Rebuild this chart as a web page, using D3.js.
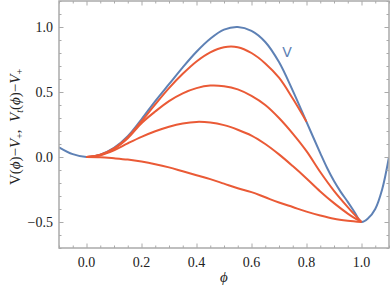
<!DOCTYPE html>
<html>
<head>
<meta charset="utf-8">
<script src="https://cdn.jsdelivr.net/npm/d3@7"></script>
<style>
  body { margin: 0; background: #fff; }
  svg { display: block; }
</style>
</head>
<body>
<div id="chart"></div>
<script>
// potential V(phi) - V+
var phiV = [-0.1, -0.05, 0, 0.05, 0.1, 0.15, 0.2, 0.25, 0.3, 0.35, 0.4, 0.45, 0.5, 0.55,
            0.6, 0.65, 0.7, 0.75, 0.8, 0.85, 0.875, 0.9, 0.925, 0.95, 0.975, 1.0,
            1.025, 1.05, 1.075, 1.1];
var vValues = [0.075, 0.022, 0, 0.018, 0.07, 0.16, 0.29, 0.43, 0.56, 0.69, 0.81, 0.91, 0.98, 1.0,
               0.97, 0.885, 0.73, 0.51, 0.27, 0.03, -0.085, -0.185, -0.27, -0.345, -0.425, -0.5,
               -0.47, -0.40, -0.25, 0.0];

// tunneling potentials Vt(phi) - V+
var phiT = [0, 0.05, 0.1, 0.15, 0.2, 0.25, 0.3, 0.35, 0.4, 0.45, 0.5, 0.55,
            0.6, 0.65, 0.7, 0.75, 0.8, 0.85, 0.9, 0.95, 1.0];
var vt1 = [0, 0.017, 0.066, 0.152, 0.275, 0.405, 0.53, 0.64, 0.735, 0.805, 0.845, 0.845,
           0.80, 0.72, 0.61, 0.45, 0.272];
var vt2 = [0, 0.016, 0.063, 0.145, 0.26, 0.35, 0.43, 0.49, 0.53, 0.55, 0.545, 0.52,
           0.47, 0.40, 0.30, 0.18, 0.045, -0.115, -0.26, -0.385, -0.5];
var vt3 = [0, 0.014, 0.052, 0.105, 0.155, 0.198, 0.233, 0.258, 0.27, 0.265, 0.245, 0.21,
           0.165, 0.10, 0.02, -0.07, -0.165, -0.265, -0.355, -0.435, -0.5];
var vt4 = [0, -0.002, -0.01, -0.02, -0.035, -0.055, -0.08, -0.11, -0.14, -0.17, -0.205, -0.24,
           -0.27, -0.31, -0.35, -0.385, -0.42, -0.45, -0.475, -0.49, -0.5];

var xMajor = [0, 0.2, 0.4, 0.6, 0.8, 1.0];
var yMajor = [-0.5, 0, 0.5, 1.0];

var width = 390, height = 295;
var frame = { left: 59, right: 389, top: 1, bottom: 248 };
var blue = '#5E81B5', red = '#EA5A36', frameColor = '#aaaaaa';
var serif = '"Liberation Serif", "Times New Roman", Times, "DejaVu Serif", serif';

var x = d3.scaleLinear().domain([-0.1, 1.1]).range([frame.left, frame.right]);
var y = d3.scaleLinear().domain([-0.7, 1.2]).range([frame.bottom, frame.top]);

var svg = d3.select('#chart').append('svg')
    .attr('width', width)
    .attr('height', height);

svg.append('clipPath').attr('id', 'clip')
  .append('rect')
    .attr('x', frame.left).attr('y', frame.top)
    .attr('width', frame.right - frame.left)
    .attr('height', frame.bottom - frame.top);

var plot = svg.append('g').attr('clip-path', 'url(#clip)');

var line = d3.line()
    .x(function(d) { return x(d[0]); })
    .y(function(d) { return y(d[1]); })
    .curve(d3.curveCatmullRom.alpha(0.5));

plot.append('path')
    .datum(d3.zip(phiV, vValues))
    .attr('d', line)
    .attr('fill', 'none')
    .attr('stroke', blue)
    .attr('stroke-width', 2);

[vt4, vt3, vt2, vt1].forEach(function(vals) {
  plot.append('path')
      .datum(d3.zip(phiT.slice(0, vals.length), vals))
      .attr('d', line)
      .attr('fill', 'none')
      .attr('stroke', red)
      .attr('stroke-width', 2);
});

// frame with ticks on all four sides
var xMinor = d3.range(-0.1, 1.1001, 0.05).filter(function(v) {
  return !xMajor.some(function(m) { return Math.abs(m - v) < 1e-6; });
});
var yMinor = d3.range(-0.7, 1.2001, 0.1).filter(function(v) {
  return !yMajor.some(function(m) { return Math.abs(m - v) < 1e-6; });
});

var axisG = svg.append('g').attr('class', 'frame');

function addTicks(axisFn, scale, major, minor, transform) {
  var g = axisG.append('g').attr('transform', transform);
  g.call(axisFn(scale).tickValues(minor).tickSize(-2.5).tickFormat(''));
  var g2 = axisG.append('g').attr('transform', transform);
  g2.call(axisFn(scale).tickValues(major).tickSize(-4.5).tickFormat(''));
  [g, g2].forEach(function(s) {
    s.select('.domain').remove();
    s.selectAll('line').attr('stroke', frameColor).attr('stroke-width', 1);
  });
}
addTicks(d3.axisBottom, x, xMajor, xMinor, 'translate(0,' + frame.bottom + ')');
addTicks(d3.axisTop, x, xMajor, xMinor, 'translate(0,' + frame.top + ')');
addTicks(d3.axisLeft, y, yMajor, yMinor, 'translate(' + frame.left + ',0)');
addTicks(d3.axisRight, y, yMajor, yMinor, 'translate(' + frame.right + ',0)');

axisG.append('rect')
    .attr('x', frame.left).attr('y', frame.top)
    .attr('width', frame.right - frame.left)
    .attr('height', frame.bottom - frame.top)
    .attr('fill', 'none')
    .attr('stroke', frameColor)
    .attr('stroke-width', 1.5);

// tick labels
svg.selectAll('.xlab').data(xMajor).enter().append('text')
    .attr('font-family', serif)
    .attr('font-size', 14)
    .attr('fill', '#222')
    .attr('x', function(d) { return x(d); })
    .attr('y', 267)
    .attr('text-anchor', 'middle')
    .text(function(d) { return d.toFixed(1); });

svg.selectAll('.ylab').data(yMajor).enter().append('text')
    .attr('font-family', serif)
    .attr('font-size', 14)
    .attr('fill', '#222')
    .attr('x', 53)
    .attr('y', function(d) { return y(d) + 5; })
    .attr('text-anchor', 'end')
    .text(function(d) { return (d < 0 ? '\u2212' : '') + Math.abs(d).toFixed(1); });

// axis titles
svg.append('text')
    .attr('font-family', serif)
    .attr('font-size', 15)
    .attr('fill', '#222')
    .attr('x', (frame.left + frame.right) / 2)
    .attr('y', 282)
    .attr('text-anchor', 'middle')
    .style('font-style', 'italic')
    .text('\u03D5');

var yt = svg.append('text')
    .attr('font-family', serif)
    .attr('font-size', 15)
    .attr('fill', '#222')
    .attr('transform', 'translate(20,127) rotate(-90)')
    .attr('text-anchor', 'middle');
yt.append('tspan').text('V(');
yt.append('tspan').style('font-style', 'italic').text('\u03D5');
yt.append('tspan').text(')\u2212');
yt.append('tspan').style('font-style', 'italic').text('V');
yt.append('tspan').attr('dy', 3).style('font-size', '10px').text('+');
yt.append('tspan').attr('dy', -3).text(',\u2002');
yt.append('tspan').style('font-style', 'italic').text('V');
yt.append('tspan').attr('dy', 3).style('font-size', '10px').style('font-style', 'italic').text('t');
yt.append('tspan').attr('dy', -3).text('(');
yt.append('tspan').style('font-style', 'italic').text('\u03D5');
yt.append('tspan').text(')\u2212');
yt.append('tspan').style('font-style', 'italic').text('V');
yt.append('tspan').attr('dy', 3).style('font-size', '10px').text('+');

// curve label
svg.append('text')
    .attr('x', 287)
    .attr('y', 57)
    .attr('text-anchor', 'middle')
    .attr('font-family', '"DejaVu Sans", sans-serif')
    .attr('font-size', 14)
    .attr('fill', blue)
    .text('V');
</script>
</body>
</html>
